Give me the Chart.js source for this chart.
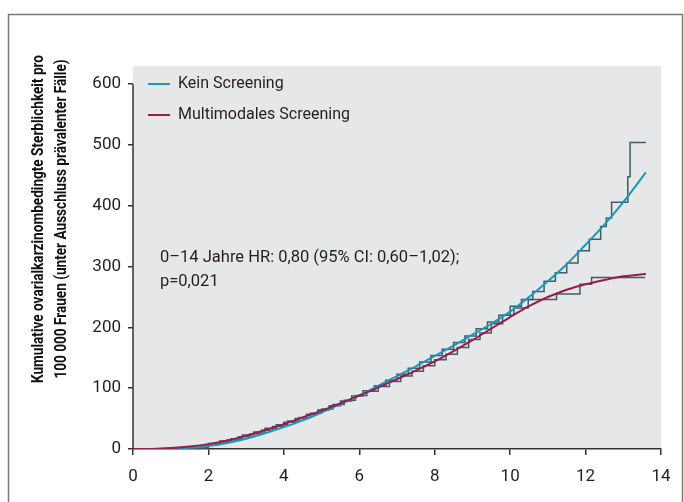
<!DOCTYPE html>
<html>
<head>
<meta charset="utf-8">
<script src="https://cdn.jsdelivr.net/npm/chart.js@4.4.1/dist/chart.umd.min.js"></script>
<style>
  html, body { margin: 0; background: #fff; }
  canvas { display: block; }
</style>
</head>
<body>
<canvas id="chart" width="684" height="502"></canvas>
<script>
// fitted curves
const curveYears = [0, 0.5, 1, 1.5, 2, 2.5, 3, 3.5, 4, 4.5, 5, 5.5, 6, 6.5, 7, 7.5, 8, 8.5, 9, 9.5, 10, 10.5, 11, 11.5, 12, 12.5, 13, 13.6];
const keinCurve = [0, 0, 0.5, 2, 5, 10, 17, 26, 36, 47, 60, 74, 88, 104, 120, 136, 153, 170, 188, 206, 226, 250, 276, 304, 336, 369, 406, 455];
const multiCurve = [0, 0.2, 1.5, 4, 8, 14, 22, 31, 41, 52, 63, 75, 88, 101, 115, 129, 144, 161, 179, 198, 217, 235, 250, 262, 271, 278, 284, 288];

// observed (step) values
const keinStepYears = [0, 1.3, 1.9, 2.2, 2.5, 2.8, 3.1, 3.4, 3.7, 4.0, 4.3, 4.6, 4.9, 5.2, 5.5, 5.8, 6.1, 6.4, 6.7, 7.0, 7.3, 7.6, 7.9, 8.2, 8.5, 8.8, 9.1, 9.4, 9.7, 10.0, 10.3, 10.6, 10.9, 11.2, 11.5, 11.8, 12.1, 12.4, 12.55, 12.69, 13.12, 13.18, 13.6];
const keinStepValues = [0, 1.5, 6, 10, 15, 20, 25, 31, 37, 44, 50, 57, 64, 71, 79, 87, 96, 104, 113, 123, 133, 143, 154, 164, 175, 186, 198, 209, 220, 235, 246, 259, 276, 290, 306, 326, 345, 366, 380, 406, 448, 504, 504];
const multiStepYears = [0, 1.4, 2.0, 2.3, 2.6, 2.9, 3.2, 3.5, 3.8, 4.1, 4.4, 4.7, 5.0, 5.3, 5.6, 5.9, 6.2, 6.5, 6.8, 7.1, 7.4, 7.7, 8.0, 8.3, 8.6, 8.9, 9.2, 9.5, 9.8, 10.1, 10.48, 11.23, 11.85, 12.16, 13.58];
const multiStepValues = [0, 2, 9, 13, 17, 23, 28, 34, 40, 46, 52, 59, 66, 73, 80, 88, 95, 103, 111, 120, 128, 137, 147, 156, 167, 180, 191, 206, 220, 232, 246, 255, 271, 282, 282];

const xTicks = [0, 2, 4, 6, 8, 10, 12, 14];
const yTicks = [0, 100, 200, 300, 400, 500, 600];

const seriesNames = ['Kein Screening', 'Multimodales Screening'];
const titleLines = ['Kumulative ovarialkarzinombedingte Sterblichkeit pro', '100 000 Frauen (unter Ausschluss prävalenter Fälle)'];
const noteLines = ['0–14 Jahre HR: 0,80 (95% CI: 0,60–1,02);', 'p=0,021'];

const TEAL = '#1b98b8';
const CRIMSON = '#9c1b4b';
const STEP = '#3f5c68';
const INK = '#231f20';

const toPoints = (xs, ys) => xs.map((x, i) => ({x: x, y: ys[i]}));

const decorations = {
  id: 'decorations',
  beforeDraw(chart) {
    const {ctx, chartArea} = chart;
    ctx.save();
    ctx.fillStyle = '#e6e7e8';
    ctx.fillRect(chartArea.left, chartArea.top, chartArea.right - chartArea.left, chartArea.bottom - chartArea.top);
    ctx.strokeStyle = '#7a7a7a';
    ctx.lineWidth = 1.5;
    ctx.strokeRect(8.5, 14.5, 674, 500);
    ctx.restore();
  },
  afterDraw(chart) {
    const {ctx, scales} = chart;
    const y = scales.y;
    ctx.save();
    // y axis line only from 0 to 600
    ctx.strokeStyle = '#333';
    ctx.lineWidth = 1.5;
    ctx.beginPath();
    ctx.moveTo(chart.chartArea.left, y.getPixelForValue(600));
    ctx.lineTo(chart.chartArea.left, y.getPixelForValue(0));
    ctx.stroke();

    // legend
    ctx.font = '16px Roboto';
    ctx.textBaseline = 'middle';
    ctx.fillStyle = INK;
    [[TEAL, 84], [CRIMSON, 115]].forEach(([c, ly], i) => {
      ctx.strokeStyle = c;
      ctx.lineWidth = 2;
      ctx.beginPath();
      ctx.moveTo(148, ly);
      ctx.lineTo(170, ly);
      ctx.stroke();
      ctx.fillText(seriesNames[i], 178, ly);
    });

    // annotation
    ctx.font = '16.5px Roboto';
    ctx.fillText(noteLines[0], 160, 258);
    ctx.fillText(noteLines[1], 160, 282);

    // y title, squeezed to look like a condensed face
    ctx.font = 'bold 16px Roboto';
    ctx.textAlign = 'center';
    ctx.fillStyle = '#111';
    const squeeze = 328 / ctx.measureText(titleLines[0]).width;
    [[39, titleLines[0]], [62, titleLines[1]]].forEach(([tx, t]) => {
      ctx.save();
      ctx.translate(tx, 219);
      ctx.rotate(-Math.PI / 2);
      ctx.scale(squeeze, 1);
      ctx.fillText(t, 0, 0);
      ctx.restore();
    });
    ctx.restore();
  }
};

new Chart(document.getElementById('chart').getContext('2d'), {
  type: 'line',
  data: {
    datasets: [{
      label: seriesNames[1],
      data: toPoints(curveYears, multiCurve),
      borderColor: CRIMSON,
      borderWidth: 2,
      cubicInterpolationMode: 'monotone',
      pointRadius: 0,
      fill: false,
      order: 0
    }, {
      label: seriesNames[0],
      data: toPoints(curveYears, keinCurve),
      borderColor: TEAL,
      borderWidth: 2,
      cubicInterpolationMode: 'monotone',
      pointRadius: 0,
      fill: false,
      order: 1
    }, {
      label: 'Kein Screening (beobachtet)',
      data: toPoints(keinStepYears, keinStepValues),
      borderColor: STEP,
      borderWidth: 1.5,
      stepped: 'before',
      pointRadius: 0,
      fill: false,
      order: 2
    }, {
      label: 'Multimodales Screening (beobachtet)',
      data: toPoints(multiStepYears, multiStepValues),
      borderColor: STEP,
      borderWidth: 1.5,
      stepped: 'before',
      pointRadius: 0,
      fill: false,
      order: 3
    }]
  },
  options: {
    responsive: false,
    animation: false,
    layout: {
      padding: {left: 0, right: 23, top: 66, bottom: 0}
    },
    plugins: {
      legend: {display: false},
      tooltip: {enabled: false}
    },
    scales: {
      x: {
        type: 'linear',
        min: 0,
        max: 14,
        afterBuildTicks: s => { s.ticks = xTicks.map(v => ({value: v})); },
        afterFit: s => { s.height = 53; },
        grid: {display: true, drawOnChartArea: false, tickLength: 6, color: '#333', lineWidth: 1.5},
        border: {display: true, color: '#333', width: 1.5},
        ticks: {color: INK, font: {family: 'Roboto', size: 17}, padding: 12, maxRotation: 0}
      },
      y: {
        type: 'linear',
        min: 0,
        max: 630,
        afterBuildTicks: s => { s.ticks = yTicks.map(v => ({value: v})); },
        afterFit: s => { s.width = 133; },
        grid: {display: true, drawOnChartArea: false, tickLength: 5, color: '#333', lineWidth: 1.5},
        border: {display: false},
        ticks: {color: INK, font: {family: 'Roboto', size: 17}, padding: 7}
      }
    }
  },
  plugins: [decorations]
});
</script>
</body>
</html>
